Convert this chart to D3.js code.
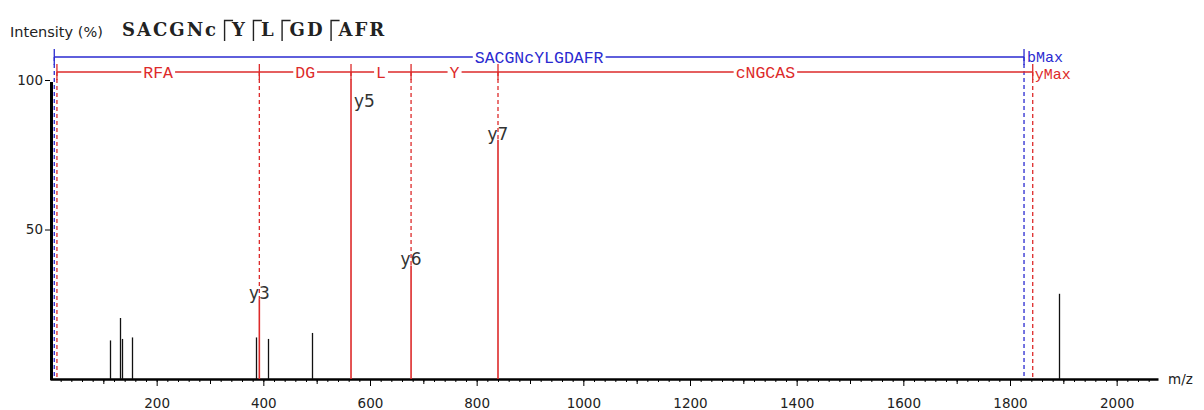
<!DOCTYPE html>
<html>
<head>
<meta charset="utf-8">
<script src="https://cdn.jsdelivr.net/npm/d3@7/dist/d3.min.js"></script>
<style>
  body { margin: 0; background: #fff; }
  svg { display: block; }
</style>
</head>
<body>
<script>
// peaks (m/z, relative intensity %)
var peakMz  = [112.5, 131.8, 134.4, 154.3, 386.3, 408.8, 490.7, 1892];
var peakInt = [12.9, 20.4, 13.4, 13.9, 13.9, 13.4, 15.4, 28.5];

// matched y ions
var ionLabels = ["y3", "y5", "y6", "y7"];
var ionMz     = [392.5, 564.4, 677, 840];
var ionInt    = [26.7, 100, 38, 80];

// ladder annotation
var bStart = 8, bMax = 1826.3;
var yStart = 13, yMax = 1842.6;
var yGapLabels = ["RFA", "DG", "L", "Y", "cNGCAS"];
var peptide = "SACGNcYLGDAFR";
var titleGroups = ["SACGNc", "Y", "L", "GD", "AFR"];

var xTicksLabeled = d3.range(200, 2001, 200);
var xTicksMid = d3.range(100, 2001, 200);
var xTicksMinor = d3.range(20, 2061, 20);
var yTicks = [50, 100];

var W = 1204, H = 410;
var RED = "#dd2a2a", BLUE = "#2a2ad0";
var MONO = "'Liberation Mono', 'DejaVu Sans Mono', monospace";
var SANS = "'DejaVu Sans', Verdana, sans-serif";

var svg = d3.select("body").append("svg").attr("width", W).attr("height", H);

var x = d3.scaleLinear().domain([0, 2077.5]).range([50, 1158]);
var y = d3.scaleLinear().domain([0, 100]).range([379, 80]);

// ---- title
svg.append("text").attr("x", 10).attr("y", 37)
  .style("font-family", SANS).style("font-size", "14.5px").attr("fill", "#222")
  .text("Intensity (%)");

var cx = 122;
titleGroups.forEach(function (g, i) {
  if (i > 0) {
    cx += 8;
    svg.append("path")
      .attr("d", "M" + (cx + 0.5) + ",41 V20.5 H" + (cx + 9))
      .attr("fill", "none").attr("stroke", "#222").attr("stroke-width", 1.4);
    cx += 8;
  }
  var t = svg.append("text").attr("x", cx).attr("y", 36)
    .style("font-family", "'DejaVu Serif', 'Liberation Serif', serif")
    .style("font-size", "18px").style("font-weight", "bold").style("letter-spacing", "2px")
    .attr("fill", "#222")
    .text(g);
  cx += t.node().getComputedTextLength() - 2;
});

// ---- axes
var gx = svg.append("g").attr("transform", "translate(0,379)");
gx.append("g").call(d3.axisBottom(x).tickValues(xTicksMinor).tickSize(3).tickFormat("").tickSizeOuter(0))
  .call(function (g) { g.select(".domain").remove(); });
gx.append("g").call(d3.axisBottom(x).tickValues(xTicksMid).tickSize(5).tickFormat("").tickSizeOuter(0))
  .call(function (g) { g.select(".domain").remove(); });
gx.append("g").call(d3.axisBottom(x).tickValues(xTicksLabeled).tickSize(7).tickPadding(12)
    .tickFormat(d3.format("d")).tickSizeOuter(0))
  .call(function (g) {
    g.select(".domain").attr("stroke-width", 2.5);
    g.selectAll("text").style("font-family", SANS).style("font-size", "13.5px").attr("fill", "#222");
  });
gx.selectAll(".tick line").attr("stroke", "#000");

svg.append("text").attr("x", 1168).attr("y", 384)
  .style("font-family", SANS).style("font-size", "13.5px").attr("fill", "#222").text("m/z");

var gy = svg.append("g").attr("transform", "translate(50,0)");
gy.call(d3.axisLeft(y).tickValues(yTicks).tickSize(5).tickPadding(2).tickSizeOuter(0))
  .call(function (g) {
    g.select(".domain").remove();
    g.selectAll("text").style("font-family", SANS).style("font-size", "13.5px").attr("fill", "#222");
  });
svg.append("line").attr("x1", 51.5).attr("x2", 51.5).attr("y1", y(99.3)).attr("y2", 380)
  .attr("stroke", "#000").attr("stroke-width", 3);

// ---- unmatched peaks
svg.selectAll("line.peak").data(peakMz).enter().append("line").attr("class", "peak")
  .attr("x1", function (d) { return Math.round(x(d)) + 0.5; })
  .attr("x2", function (d) { return Math.round(x(d)) + 0.5; })
  .attr("y1", y(0))
  .attr("y2", function (d, i) { return y(peakInt[i]); })
  .attr("stroke", "#111").attr("stroke-width", 1.3);

// ---- ladder lines
var blueY = 57, redY = 72;
var dash = "4,3";

function vdash(m, y1, y2, col) {
  svg.append("line").attr("x1", x(m)).attr("x2", x(m)).attr("y1", y1).attr("y2", y2)
    .attr("stroke", col).attr("stroke-width", 1.3).attr("stroke-dasharray", dash);
}
function vtick(m, y1, y2, col) {
  svg.append("line").attr("x1", x(m)).attr("x2", x(m)).attr("y1", y1).attr("y2", y2)
    .attr("stroke", col).attr("stroke-width", 1.3);
}

// b ladder (blue)
vdash(bStart, blueY, y(0), BLUE);
vdash(bMax, blueY, y(0), BLUE);
svg.append("line").attr("x1", x(bStart)).attr("x2", x(bMax)).attr("y1", blueY).attr("y2", blueY)
  .attr("stroke", BLUE).attr("stroke-width", 1.3);
vtick(bStart, 49, 65, BLUE);
vtick(bMax, 49, 65, BLUE);

// y ladder (red)
var yBounds = [yStart].concat(ionMz, [yMax]);
vdash(yStart, redY, y(0), RED);
vdash(yMax, redY, y(0), RED);
svg.append("line").attr("x1", x(yStart)).attr("x2", x(yMax)).attr("y1", redY).attr("y2", redY)
  .attr("stroke", RED).attr("stroke-width", 1.3);
yBounds.forEach(function (m) { vtick(m, 64, 80, RED); });

// ion peaks
ionMz.forEach(function (m, i) {
  vdash(m, redY, y(ionInt[i]), RED);
  svg.append("line").attr("x1", x(m)).attr("x2", x(m)).attr("y1", y(0)).attr("y2", y(ionInt[i]))
    .attr("stroke", RED).attr("stroke-width", 1.6);
});

// labels with white knock-out
function boxLabel(txt, cxp, cyp, col) {
  var g = svg.append("g");
  var r = g.append("rect").attr("fill", "#fff");
  var t = g.append("text").attr("x", cxp).attr("y", cyp + 5.5).attr("text-anchor", "middle")
    .style("font-family", MONO).style("font-size", "16.5px").attr("fill", col).text(txt);
  var bb = t.node().getBBox();
  r.attr("x", bb.x - 2).attr("y", cyp - 3).attr("width", bb.width + 4).attr("height", 6);
}
boxLabel(peptide, (x(bStart) + x(bMax)) / 2, blueY, BLUE);
yGapLabels.forEach(function (lab, i) {
  boxLabel(lab, (x(yBounds[i]) + x(yBounds[i + 1])) / 2, redY, RED);
});

svg.append("text").attr("x", x(bMax) + 3).attr("y", 62)
  .style("font-family", MONO).style("font-size", "15px").attr("fill", BLUE).text("bMax");
svg.append("text").attr("x", x(yMax) + 2).attr("y", 79)
  .style("font-family", MONO).style("font-size", "15px").attr("fill", RED).text("yMax");

// ion labels
ionLabels.forEach(function (lab, i) {
  var top = y(ionInt[i]);
  var t = svg.append("text").style("font-family", SANS).style("font-size", "17px")
    .attr("fill", "#333").text(lab);
  if (top - 16 < 82) {
    t.attr("x", x(ionMz[i]) + 3).attr("y", top + 27);
  } else {
    t.attr("x", x(ionMz[i])).attr("y", top).attr("text-anchor", "middle");
  }
});
</script>
</body>
</html>
